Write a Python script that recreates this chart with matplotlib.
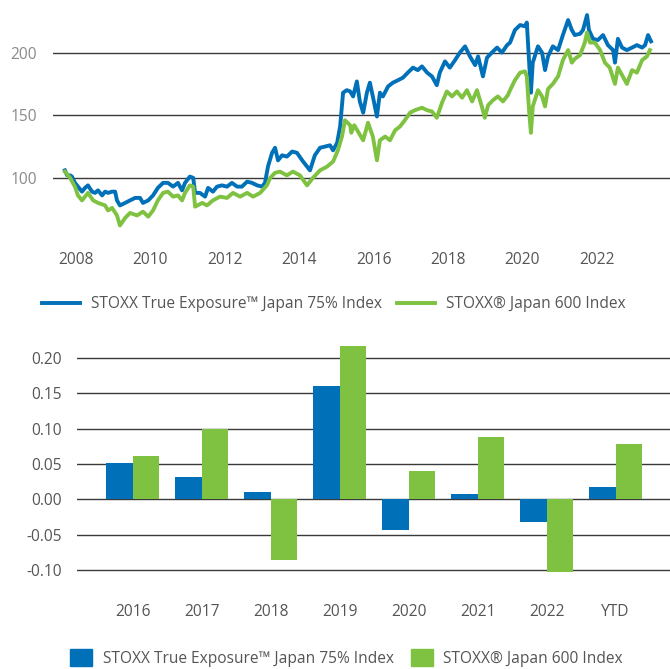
import matplotlib
matplotlib.use("Agg")
from matplotlib import pyplot as plt
from matplotlib.patches import Patch
from matplotlib.lines import Line2D

plt.rcParams["font.family"] = ["Open Sans", "DejaVu Sans"]

BLUE = "#0070b8"
GREEN = "#7fc241"
GRID = "#3a3a3a"
TEXT = "#555555"
TEXT_LIGHT = "#8a8a8a"
FS = 11.2

# --- index levels (fractional years) ---
te_dates = [
    2007.70, 2007.76, 2007.84, 2007.89, 2007.97, 2008.05, 2008.16, 2008.24, 2008.32, 2008.43,
    2008.51, 2008.59, 2008.70, 2008.78, 2008.86, 2008.97, 2009.05, 2009.10, 2009.18, 2009.32,
    2009.45, 2009.59, 2009.72, 2009.80, 2009.94, 2010.07, 2010.20, 2010.34, 2010.47, 2010.61,
    2010.74, 2010.85, 2010.93, 2011.06, 2011.15, 2011.20, 2011.33, 2011.47, 2011.55, 2011.68,
    2011.79, 2011.92, 2012.06, 2012.19, 2012.33, 2012.46, 2012.60, 2012.73, 2012.87, 2013.00,
    2013.08, 2013.16, 2013.27, 2013.35, 2013.43, 2013.54, 2013.67, 2013.81, 2013.94, 2014.08,
    2014.21, 2014.29, 2014.42, 2014.56, 2014.69, 2014.83, 2014.91, 2015.02, 2015.10, 2015.18,
    2015.28, 2015.37, 2015.45, 2015.55, 2015.63, 2015.72, 2015.82, 2015.90, 2015.98, 2016.09,
    2016.17, 2016.25, 2016.39, 2016.52, 2016.66, 2016.79, 2016.92, 2017.06, 2017.19, 2017.30,
    2017.44, 2017.57, 2017.70, 2017.78, 2017.92, 2018.05, 2018.19, 2018.32, 2018.46, 2018.59,
    2018.73, 2018.81, 2018.94, 2019.05, 2019.18, 2019.32, 2019.45, 2019.59, 2019.67, 2019.80,
    2019.94, 2020.07, 2020.12, 2020.18, 2020.23, 2020.28, 2020.42, 2020.53, 2020.61, 2020.69,
    2020.82, 2020.96, 2021.09, 2021.23, 2021.33, 2021.41, 2021.55, 2021.63, 2021.74, 2021.79,
    2021.90, 2022.03, 2022.17, 2022.30, 2022.44, 2022.49, 2022.57, 2022.68, 2022.81, 2022.95,
    2023.08, 2023.22, 2023.30, 2023.38, 2023.46,
]
te_values = [
    106, 102, 102, 101, 96, 93, 89, 92, 94, 89,
    88, 90, 86, 89, 88, 89, 89, 82, 78, 80,
    82, 84, 84, 80, 82, 86, 92, 96, 96, 93,
    96, 90, 96, 101, 100, 88, 88, 85, 92, 89,
    93, 94, 93, 96, 93, 93, 97, 96, 94, 93,
    96, 109, 120, 124, 114, 118, 117, 121, 120, 114,
    109, 106, 118, 124, 125, 126, 122, 128, 141, 168,
    170, 169, 165, 177, 161, 152, 168, 176, 165, 149,
    168, 165, 173, 176, 178, 180, 184, 188, 186, 189,
    184, 181, 174, 184, 193, 188, 194, 200, 205, 197,
    190, 197, 181, 196, 200, 204, 200, 206, 208, 218,
    222, 221, 224, 194, 168, 192, 205, 200, 186, 197,
    205, 202, 214, 226, 218, 214, 215, 218, 230, 218,
    211, 210, 214, 206, 202, 192, 211, 204, 202, 204,
    206, 204, 206, 214, 209,
]

jp_dates = [
    2007.70, 2007.84, 2007.97, 2008.05, 2008.16, 2008.24, 2008.32, 2008.46, 2008.59, 2008.78,
    2008.86, 2008.97, 2009.10, 2009.18, 2009.32, 2009.45, 2009.64, 2009.80, 2009.94, 2010.07,
    2010.20, 2010.34, 2010.47, 2010.61, 2010.74, 2010.85, 2010.93, 2011.06, 2011.15, 2011.20,
    2011.39, 2011.52, 2011.68, 2011.87, 2012.06, 2012.22, 2012.41, 2012.60, 2012.76, 2012.95,
    2013.13, 2013.22, 2013.35, 2013.48, 2013.67, 2013.83, 2014.02, 2014.21, 2014.37, 2014.56,
    2014.75, 2014.91, 2015.04, 2015.15, 2015.23, 2015.37, 2015.40, 2015.48, 2015.72, 2015.85,
    2015.98, 2016.09, 2016.17, 2016.31, 2016.44, 2016.58, 2016.71, 2016.84, 2016.98, 2017.11,
    2017.30, 2017.44, 2017.57, 2017.70, 2017.84, 2017.97, 2018.11, 2018.24, 2018.38, 2018.51,
    2018.65, 2018.78, 2018.91, 2018.99, 2019.08, 2019.21, 2019.34, 2019.48, 2019.61, 2019.67,
    2019.80, 2019.94, 2020.07, 2020.12, 2020.18, 2020.23, 2020.28, 2020.42, 2020.53, 2020.61,
    2020.69, 2020.82, 2020.96, 2021.09, 2021.23, 2021.33, 2021.41, 2021.55, 2021.68, 2021.74,
    2021.82, 2021.95, 2022.09, 2022.22, 2022.35, 2022.49, 2022.57, 2022.70, 2022.81, 2022.95,
    2023.08, 2023.22, 2023.35, 2023.43,
]
jp_values = [
    105, 100, 93, 86, 82, 85, 88, 82, 80, 78,
    74, 76, 70, 62, 68, 72, 70, 73, 69, 74,
    82, 88, 89, 85, 86, 82, 88, 94, 93, 77,
    80, 78, 82, 85, 84, 88, 85, 88, 85, 88,
    94, 100, 104, 105, 102, 105, 102, 94, 100, 106,
    109, 113, 122, 133, 146, 142, 136, 142, 130, 144,
    133, 114, 130, 133, 130, 138, 141, 146, 152, 154,
    156, 154, 153, 148, 160, 169, 165, 169, 164, 170,
    161, 170, 157, 148, 158, 162, 165, 161, 166, 170,
    178, 184, 185, 181, 154, 136, 157, 170, 165, 157,
    171, 175, 181, 194, 202, 192, 195, 198, 208, 216,
    208, 208, 202, 192, 188, 175, 188, 181, 175, 186,
    184, 194, 197, 202,
]

# --- calendar-year returns ---
periods = ["2016", "2017", "2018", "2019", "2020", "2021", "2022", "YTD"]
te_returns = [0.052, 0.031, 0.010, 0.160, -0.044, 0.007, -0.032, 0.018]
jp_returns = [0.061, 0.099, -0.085, 0.217, 0.040, 0.088, -0.103, 0.078]

te_label = "STOXX True Exposure™ Japan 75% Index"
jp_label = "STOXX® Japan 600 Index"

W, H = 670, 669
fig = plt.figure(figsize=(W / 100, H / 100), dpi=100)

# top: index levels
ax1 = fig.add_axes([53 / W, 1 - 248 / H, (W - 53) / W, 248 / H])
ax1.plot(te_dates, te_values, color=BLUE, lw=2.8, solid_joinstyle="round", zorder=3)
ax1.plot(jp_dates, jp_values, color=GREEN, lw=2.8, solid_joinstyle="round", zorder=4)
ax1.set_xlim(2007.38, 2023.97)
ax1.set_ylim(44, 242)
ax1.set_yticks([100, 150, 200])
ax1.set_xticks(range(2008, 2023, 2))
ax1.grid(axis="y", color=GRID, lw=1.0)
ax1.tick_params(length=0, labelsize=FS, colors=TEXT)
ax1.tick_params(axis="y", pad=11.5, labelcolor=TEXT_LIGHT)
ax1.tick_params(axis="x", pad=3)
for s in ax1.spines.values():
    s.set_visible(False)
ax1.set_axisbelow(True)

fig.legend(
    [Line2D([], [], color=BLUE, lw=2.8), Line2D([], [], color=GREEN, lw=2.8)],
    [te_label, jp_label],
    loc="center", bbox_to_anchor=(0.498, 1 - 304 / H), ncol=2, frameon=False,
    fontsize=FS, labelcolor=TEXT, handlelength=2.45, handletextpad=0.7,
    columnspacing=0.96,
)

# bottom: yearly returns
ax2 = fig.add_axes([77 / W, 1 - 597 / H, (W - 77) / W, (597 - 343) / H])
x = range(len(periods))
w = 0.385
ax2.bar([i - w / 2 for i in x], te_returns, width=w, color=BLUE, zorder=3)
ax2.bar([i + w / 2 for i in x], jp_returns, width=w, color=GREEN, zorder=3)
ax2.set_xlim(-0.81, 7.79)
ax2.set_ylim(-0.138, 0.221)
ax2.set_yticks([-0.10, -0.05, 0.00, 0.05, 0.10, 0.15, 0.20])
ax2.set_yticklabels([f"{v:.2f}" for v in ax2.get_yticks()])
ax2.set_xticks(list(x))
ax2.set_xticklabels(periods)
ax2.grid(axis="y", color=GRID, lw=1.0)
ax2.tick_params(length=0, labelsize=FS, colors=TEXT)
ax2.tick_params(axis="y", pad=10.8)
ax2.tick_params(axis="x", pad=5)
for s in ax2.spines.values():
    s.set_visible(False)
ax2.set_axisbelow(True)

fig.legend(
    [Patch(color=BLUE), Patch(color=GREEN)],
    [te_label, jp_label],
    loc="center", bbox_to_anchor=(0.517, 1 - 658 / H), ncol=2, frameon=False,
    fontsize=FS, labelcolor=TEXT, handlelength=1.41, handleheight=1.29,
    handletextpad=0.65, columnspacing=1.1,
)

fig.savefig("out.png", dpi=100)
